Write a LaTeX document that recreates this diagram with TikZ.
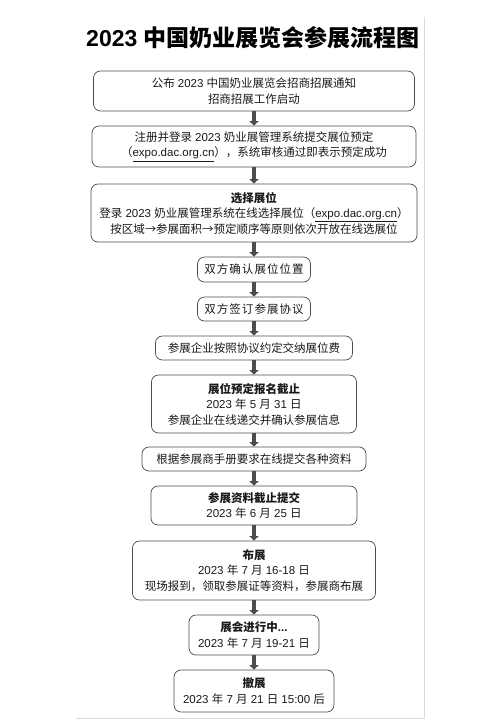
\documentclass[tikz,border=0pt]{standalone}
\usepackage{fontspec}
\setmainfont{Liberation Sans}
\newfontfamily\cjkfont{Noto Sans CJK SC}
\newfontfamily\cjkwide{Noto Sans CJK SC}[LetterSpace=9]
\usetikzlibrary{arrows.meta}

% Chinese characters go to the CJK face by themselves
\XeTeXinterchartokenstate=1
\newXeTeXintercharclass\cjkcls
\newcount\cjkc
\def\setcjk#1#2{\cjkc=#1 \loop\XeTeXcharclass\cjkc=\cjkcls \advance\cjkc by 1 \ifnum\cjkc<#2 \repeat}
\setcjk{"3000}{"3040}
\setcjk{"4E00}{"A000}
\setcjk{"FF00}{"FFF0}
\XeTeXcharclass"2192=\cjkcls
\XeTeXinterchartoks 0 \cjkcls = {\cjkfont}
\XeTeXinterchartoks 4095 \cjkcls = {\cjkfont}
\XeTeXinterchartoks \cjkcls 0 = {\rmfamily}
\XeTeXinterchartoks \cjkcls 4095 = {\rmfamily}
\newcommand\widecjk[1]{{\XeTeXinterchartokenstate=0 \cjkwide #1}}

\begin{document}
\begin{tikzpicture}[x=1pt,y=-1pt,
  stage/.style={draw=black!70,line width=0.7pt,rounded corners=7pt,align=center,
    inner sep=0pt,text=black!90,font=\fontsize{11.5}{15.5}\selectfont},
  flowarr/.style={draw=black!70,line width=3.2pt,-{Triangle[length=4.5pt,width=9pt]}}]
\useasboundingbox (0,0) rectangle (487,721);
\draw[black!15] (424,17) -- (424,718) -- (76,718);
\node (title) at (253,38) {\fontsize{23}{26}\selectfont\bfseries 2023 中国奶业展览会参展流程图};

\node[stage,minimum width=321pt,minimum height=40pt] (pub) at (254,91)
  {公布 2023 中国奶业展览会招商招展通知\\招商招展工作启动};
\node[stage,minimum width=324pt,minimum height=41pt] (reg) at (254,146.5)
  {注册并登录 2023 奶业展管理系统提交展位预定\\（\underline{expo.dac.org.cn}），系统审核通过即表示预定成功};
\node[stage,minimum width=326pt,minimum height=58pt] (sel) at (254,213)
  {\textbf{选择展位}\\登录 2023 奶业展管理系统在线选择展位（\underline{expo.dac.org.cn}）\\按区域→参展面积→预定顺序等原则依次开放在线选展位};
\node[stage,minimum width=113pt,minimum height=25pt] (conf) at (254,269.5) {\widecjk{双方确认展位位置}};
\node[stage,minimum width=113pt,minimum height=24pt] (sign) at (254,309) {\widecjk{双方签订参展协议}};
\node[stage,minimum width=197pt,minimum height=24pt] (fee) at (254,348) {参展企业按照协议约定交纳展位费};
\node[stage,minimum width=205pt,minimum height=58pt] (close) at (254,404)
  {\textbf{展位预定报名截止}\\2023 年 5 月 31 日\\参展企业在线递交并确认参展信息};
\node[stage,minimum width=224pt,minimum height=24pt] (docs) at (254,459) {根据参展商手册要求在线提交各种资料};
\node[stage,minimum width=206pt,minimum height=39pt] (docsend) at (254,505.5)
  {\textbf{参展资料截止提交}\\2023 年 6 月 25 日};
\node[stage,minimum width=243pt,minimum height=59pt] (build) at (254,570.5)
  {\textbf{布展}\\2023 年 7 月 16-18 日\\现场报到，领取参展证等资料，参展商布展};
\node[stage,minimum width=130pt,minimum height=40pt] (show) at (254,635)
  {\textbf{展会进行中...}\\2023 年 7 月 19-21 日};
\node[stage,minimum width=160pt,minimum height=42pt] (strike) at (254,691)
  {\textbf{撤展}\\2023 年 7 月 21 日 15:00 后};

\foreach \a/\b in {pub/reg,reg/sel,sel/conf,conf/sign,sign/fee,fee/close,close/docs,docs/docsend,docsend/build,build/show,show/strike}
  \draw[flowarr] (\a) -- (\b);
\end{tikzpicture}
\end{document}
